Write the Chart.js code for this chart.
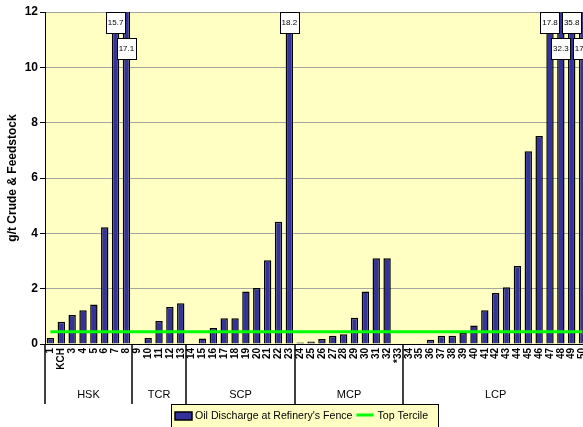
<!DOCTYPE html>
<html>
<head>
<meta charset="utf-8">
<script src="https://cdn.jsdelivr.net/npm/chart.js@4/dist/chart.umd.min.js"></script>
<style>
  html, body { margin: 0; padding: 0; background: #fff; overflow: hidden; }
  #wrap { position: relative; width: 600px; height: 427px; }
</style>
</head>
<body>
<div id="wrap"><canvas id="c"></canvas></div>
<script>
// Refinery sites along the category axis
const categories = [
  '1','KCH','3','4','5','6','7','8',
  '9','10','11','12','13',
  '14','15','16','17','18','19','20','21','22','23',
  '24','25','26','27','28','29','30','31','32','*33',
  '34','35','36','37','38','39','40','41','42','43','44','45','46','47','48','49','50'
];

// Oil discharge at refinery's fence, g/t crude & feedstock
const oilDischarge = [
  0.22, 0.80, 1.05, 1.22, 1.43, 4.22, 15.7, 17.1,
  0, 0.22, 0.83, 1.34, 1.47,
  0, 0.20, 0.58, 0.93, 0.93, 1.90, 2.02, 3.03, 4.42, 18.2,
  0.05, 0.09, 0.18, 0.30, 0.35, 0.95, 1.90, 3.10, 3.10, 0,
  0, 0, 0.15, 0.30, 0.30, 0.40, 0.67, 1.22, 1.84, 2.05, 2.82, 6.97, 7.52, 17.8, 32.3, 35.8, 17.7
];

// Top tercile threshold
const topTercile = 0.44;

// Region groups: name and index of first category in the group
const groupNames  = ['HSK', 'TCR', 'SCP', 'MCP', 'LCP'];
const groupStarts = [0, 8, 13, 23, 33];

const yMax = 12;
const BAR_BLUE = '#333399';
const PLOT_BG = '#FFFFC4';
const FONT = 'Arial, "Liberation Sans", sans-serif';

// Yellow plot background
const plotBackground = {
  id: 'plotBackground',
  beforeDraw(chart) {
    const { ctx, chartArea: a } = chart;
    ctx.save();
    ctx.fillStyle = PLOT_BG;
    ctx.fillRect(a.left, a.top, a.right - a.left, a.bottom - a.top);
    ctx.restore();
  }
};

// Boxed value labels for bars running off the top of the axis
const overflowLabels = {
  id: 'overflowLabels',
  afterDatasetsDraw(chart) {
    const { ctx, chartArea: a } = chart;
    const dsIndex = chart.data.datasets.findIndex(d => d.type === 'bar');
    const meta = chart.getDatasetMeta(dsIndex);
    const vals = chart.data.datasets[dsIndex].data;
    let prevRow = -1;
    ctx.save();
    ctx.font = '8px ' + FONT;
    ctx.textAlign = 'center';
    ctx.textBaseline = 'middle';
    vals.forEach((v, i) => {
      if (v > yMax) {
        const row = (prevRow === 0) ? 1 : 0;
        prevRow = row;
        const x = meta.data[i].x;
        const w = 19, h = 21;
        const top = a.top + row * 26;
        ctx.fillStyle = '#fff';
        ctx.fillRect(x - w / 2, top, w, h);
        ctx.strokeStyle = '#000';
        ctx.lineWidth = 1;
        ctx.strokeRect(Math.round(x - w / 2) + 0.5, top + 0.5, w, h);
        ctx.fillStyle = '#000';
        ctx.fillText(String(v), x, top + h / 2 + 0.5);
      } else {
        prevRow = -1;
      }
    });
    ctx.restore();
  }
};

// Multi-level category axis: group separators and group names, then legend box
const groupAxisAndLegend = {
  id: 'groupAxisAndLegend',
  afterDraw(chart) {
    const { ctx, chartArea: a } = chart;
    const step = (a.right - a.left) / categories.length;
    const lineBottom = a.bottom + 60;
    ctx.save();
    // separators
    ctx.strokeStyle = '#000';
    ctx.lineWidth = 1.5;
    groupStarts.forEach((s) => {
      const x = Math.round(a.left + s * step);
      ctx.beginPath();
      ctx.moveTo(x, a.bottom);
      ctx.lineTo(x, lineBottom);
      ctx.stroke();
    });
    // group names
    ctx.fillStyle = '#000';
    ctx.font = '11px ' + FONT;
    ctx.textAlign = 'center';
    ctx.textBaseline = 'middle';
    groupNames.forEach((name, g) => {
      const s = groupStarts[g];
      const e = g + 1 < groupStarts.length ? groupStarts[g + 1] : categories.length;
      const cx = a.left + (s + e) / 2 * step;
      ctx.fillText(name, cx, a.bottom + 51);
    });

    // legend box
    const lx = a.left + 126, ly = a.bottom + 60, lw = 267, lh = 26;
    ctx.fillStyle = PLOT_BG;
    ctx.fillRect(lx, ly, lw, lh);
    ctx.strokeStyle = '#000';
    ctx.lineWidth = 1;
    ctx.strokeRect(lx + 0.5, ly + 0.5, lw, lh);
    const ds = chart.data.datasets;
    const barDs = ds.find(d => d.type === 'bar');
    const lineDs = ds.find(d => d.type === 'line');
    const cy = ly + 12;
    // bar swatch
    ctx.fillStyle = barDs.backgroundColor;
    ctx.fillRect(lx + 4, cy - 4, 17, 8);
    ctx.lineWidth = 1.5;
    ctx.strokeStyle = '#000';
    ctx.strokeRect(lx + 4, cy - 4, 17, 8);
    ctx.fillStyle = '#000';
    ctx.font = '10.6px ' + FONT;
    ctx.textAlign = 'left';
    const tx = lx + 24;
    ctx.fillText(barDs.label, tx, cy);
    const textEnd = tx + ctx.measureText(barDs.label).width;
    // line swatch
    ctx.strokeStyle = lineDs.borderColor;
    ctx.lineWidth = 3;
    ctx.beginPath();
    ctx.moveTo(textEnd + 4, cy - 1);
    ctx.lineTo(textEnd + 21, cy - 1);
    ctx.stroke();
    ctx.fillText(lineDs.label, textEnd + 25, cy);
    ctx.restore();
  }
};

new Chart(document.getElementById('c'), {
  data: {
    labels: categories,
    datasets: [
      {
        type: 'line',
        label: 'Top Tercile',
        data: categories.map(() => topTercile),
        borderColor: '#00FF00',
        borderWidth: 3,
        pointRadius: 0,
        fill: false,
        order: 0
      },
      {
        type: 'bar',
        label: "Oil Discharge at Refinery's Fence",
        data: oilDischarge,
        backgroundColor: BAR_BLUE,
        borderColor: '#000',
        borderWidth: 1.5,
        borderSkipped: 'bottom',
        categoryPercentage: 1,
        barPercentage: 0.68,
        order: 1
      }
    ]
  },
  options: {
    responsive: true,
    maintainAspectRatio: false,
    animation: false,
    layout: { padding: { top: 12, right: 12, left: 0, bottom: 0 } },
    plugins: {
      legend: { display: false },
      tooltip: { enabled: false }
    },
    scales: {
      x: {
        type: 'category',
        offset: true,
        grid: { display: false, drawTicks: false },
        border: { display: true, color: '#000', width: 1 },
        ticks: {
          autoSkip: false,
          minRotation: 90,
          maxRotation: 90,
          padding: 4,
          color: '#000',
          font: { family: FONT, size: 10, weight: 'bold' }
        },
        afterFit(scale) { scale.height = 83; }
      },
      y: {
        min: 0,
        max: yMax,
        ticks: {
          stepSize: 2,
          padding: 2,
          color: '#000',
          font: { family: FONT, size: 12, weight: 'bold' }
        },
        grid: { color: '#A4A4A0', lineWidth: 1, tickColor: '#000', tickLength: 5 },
        border: { display: true, color: '#000', width: 1 },
        title: {
          display: true,
          text: 'g/t Crude & Feedstock',
          color: '#000',
          font: { family: FONT, size: 12, weight: 'bold' },
          padding: { top: 5, bottom: 0 }
        },
        afterFit(scale) { scale.width = 45; }
      }
    }
  },
  plugins: [plotBackground, overflowLabels, groupAxisAndLegend]
});
</script>
</body>
</html>
